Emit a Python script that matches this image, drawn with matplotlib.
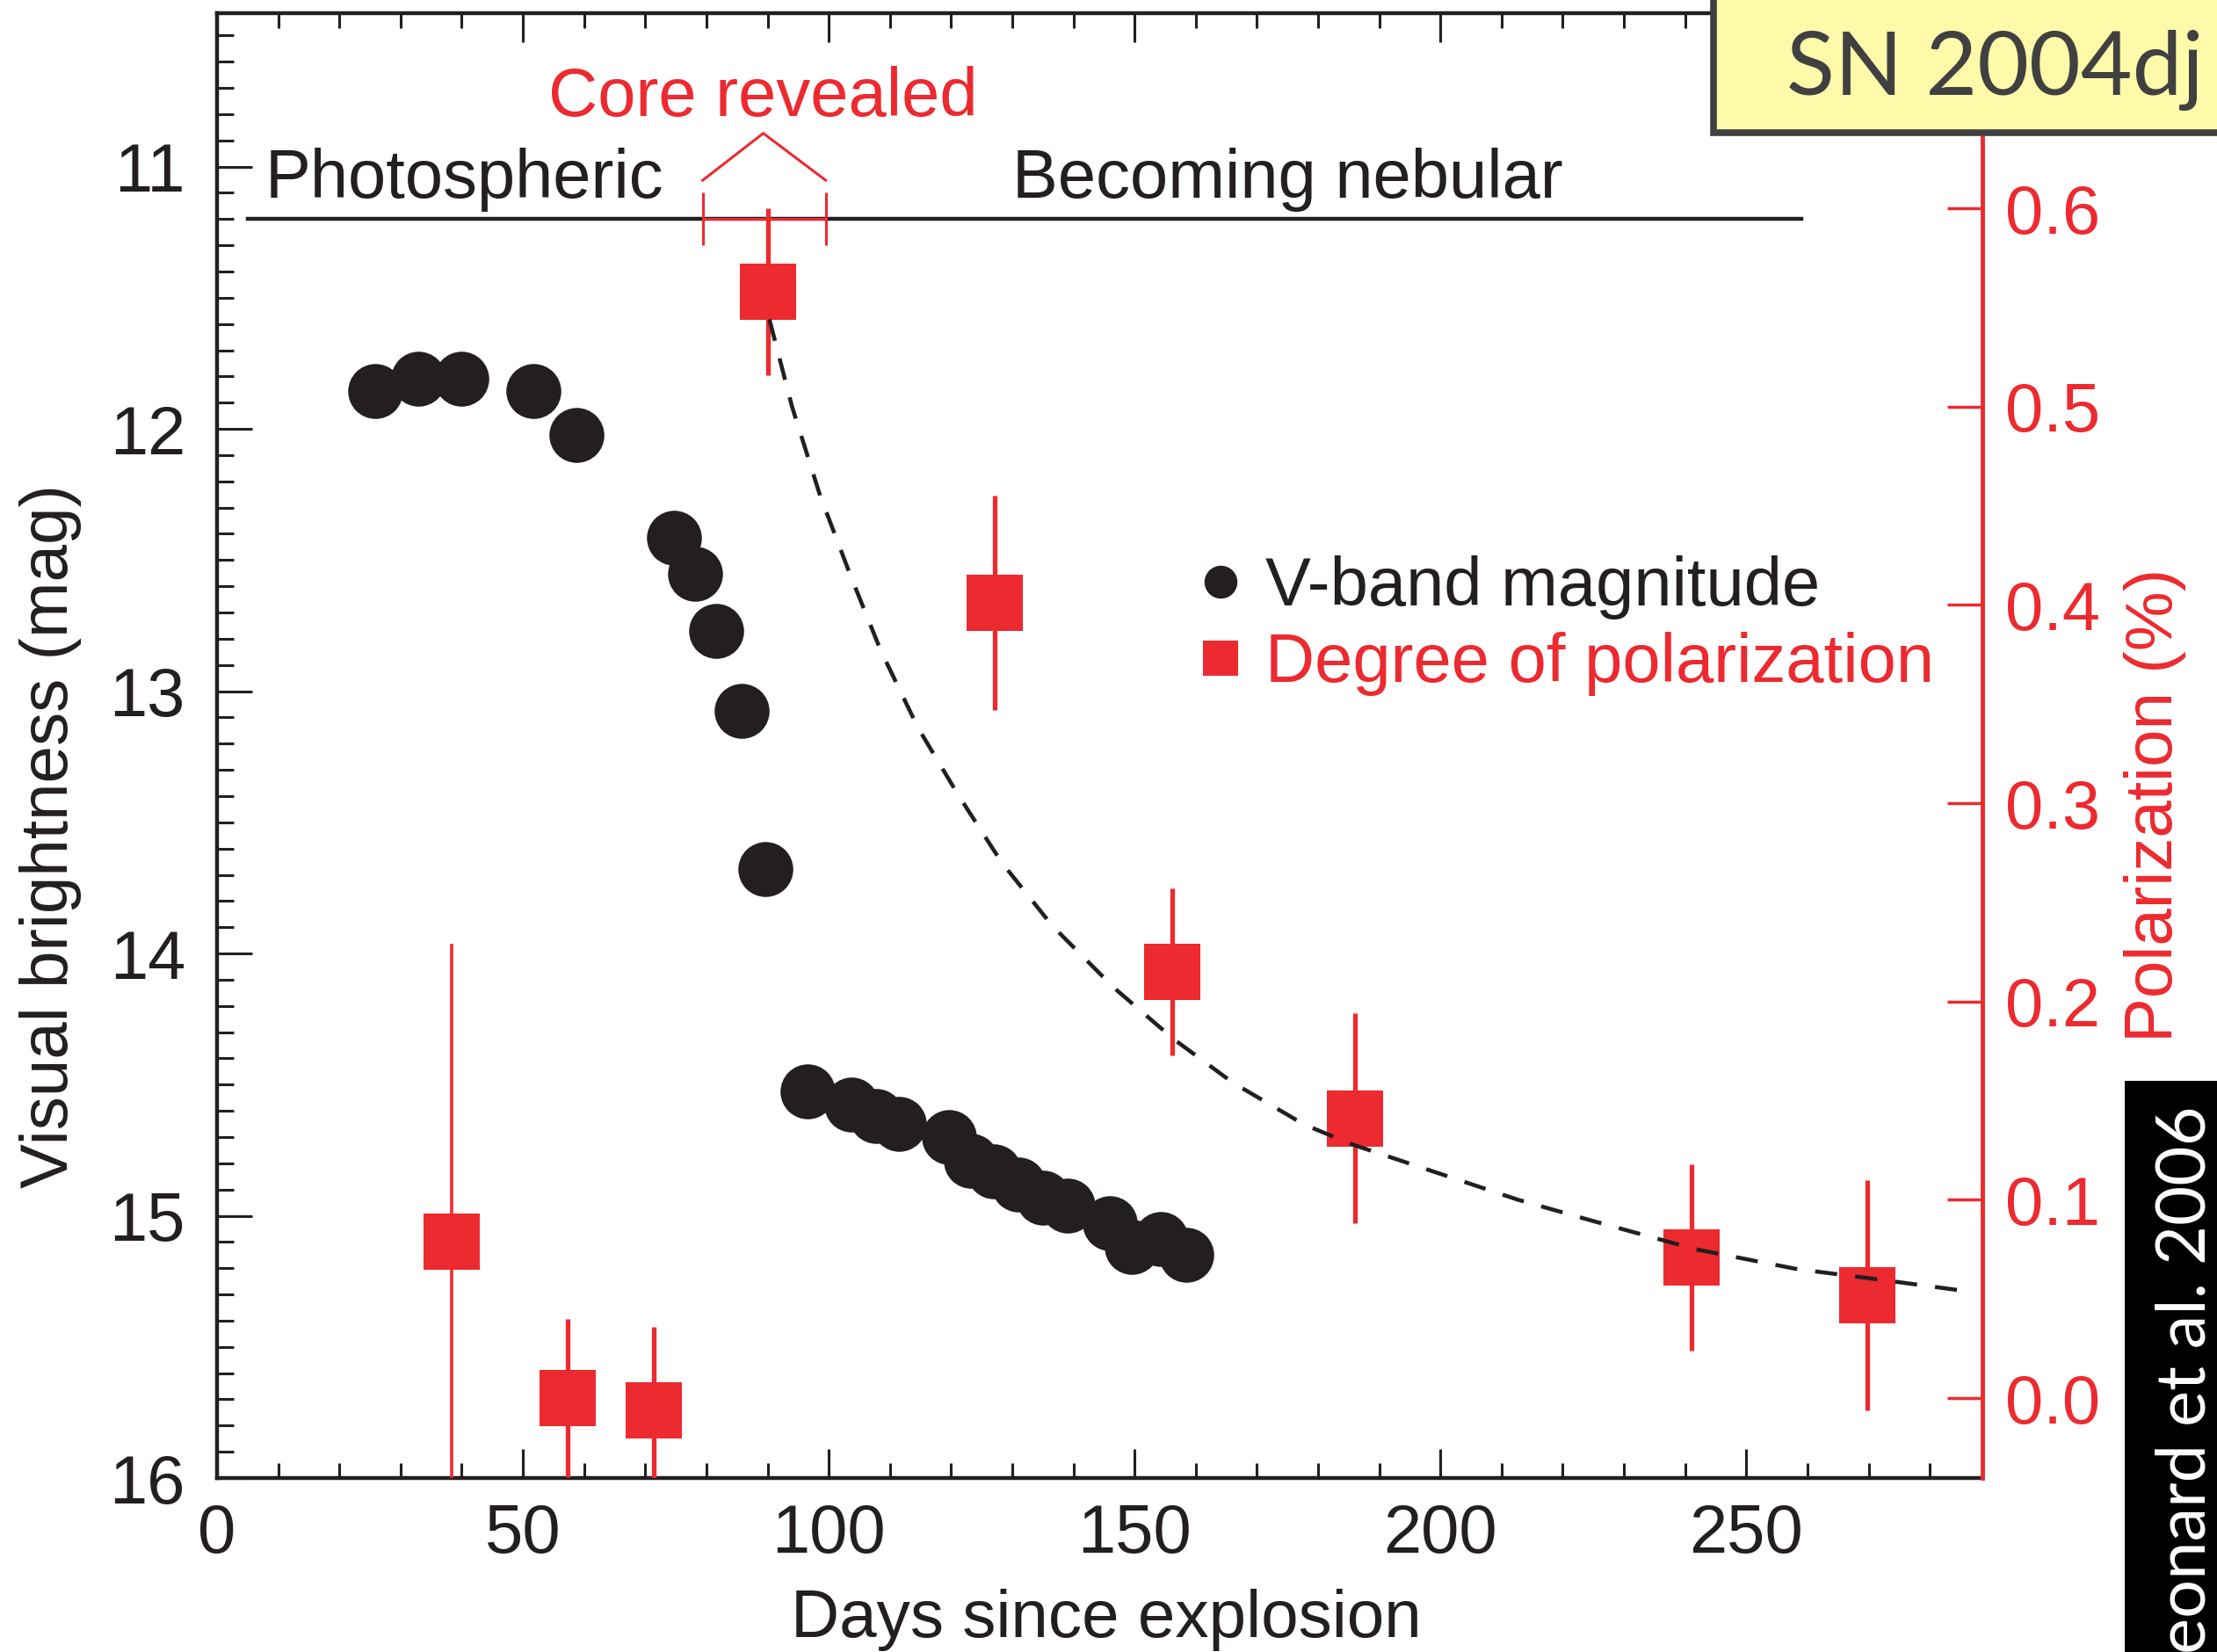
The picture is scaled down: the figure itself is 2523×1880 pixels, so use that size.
import matplotlib
matplotlib.use('Agg')
import matplotlib.pyplot as plt
from matplotlib.lines import Line2D
from matplotlib.patches import Rectangle
from matplotlib.ticker import MultipleLocator, FormatStrFormatter

plt.rcParams['font.family'] = ['Liberation Sans', 'DejaVu Sans']

BLACK = '#231f20'
RED = '#ec2a2f'

# V-band light curve (days since explosion, magnitude)
days_v = [25.8, 32.9, 39.9, 51.7, 58.8, 74.7, 78.1, 81.6, 85.7, 89.7,
          96.5, 103.7, 107.7, 111.5, 119.7, 123.3, 127.0, 131.0, 135.0, 139.0,
          146.0, 149.5, 154.3, 158.5]
mag_v = [11.857, 11.809, 11.809, 11.857, 12.023, 12.416, 12.553, 12.769, 13.074, 13.677,
         14.525, 14.575, 14.62, 14.65, 14.70, 14.79, 14.83, 14.88, 14.93, 14.96,
         15.03, 15.12, 15.09, 15.15]

# degree of polarization (%) with 1-sigma errors
days_p = [38.4, 57.3, 71.4, 90.0, 127.1, 156.2, 186.1, 241.0, 269.8]
pol = [0.079, 0.000, -0.006, 0.558, 0.401, 0.215, 0.141, 0.071, 0.052]
pol_err = [0.150, 0.040, 0.042, 0.042, 0.054, 0.042, 0.053, 0.047, 0.058]

# decline curve through the nebular-phase points
days_fit = [90.3, 94.0, 98.6, 103.6, 108.5, 114.6, 121.2, 128.3, 136.6, 146.6,
            156.4, 166.1, 177.7, 185.5, 199.1, 212.7, 225.3, 241.8, 258.4, 270.0, 284.6]
pol_fit = [0.544, 0.500, 0.455, 0.4145, 0.377, 0.338, 0.304, 0.270, 0.238, 0.207,
           0.181, 0.159, 0.138, 0.128, 0.114, 0.100, 0.089, 0.075, 0.065, 0.0605, 0.0545]

# phase markers
phase_days = (5.0, 259.0)
core_days = (79.4, 99.5)
phase_mag = 11.2

W, H = 2523, 1880
fig = plt.figure(figsize=(W / 100, H / 100), dpi=100)
ax = fig.add_axes([247 / W, 1 - 1682 / H, 2009 / W, 1667 / H])
ax2 = ax.twinx()

# light curve
ax.plot(days_v, mag_v, 'o', ms=45, mew=0, color=BLACK, zorder=3)

# phase line and labels
ax.plot(phase_days, [phase_mag, phase_mag], color=BLACK, lw=3.2, zorder=2)
ax.plot(core_days, [phase_mag, phase_mag], color=RED, lw=2.2, zorder=4)
ax.vlines(core_days, phase_mag - 0.1, phase_mag + 0.1, color=RED, lw=2.2, zorder=4)
ax.plot([core_days[0], 89.3, core_days[1]], [11.052, 10.873, 11.052], color=RED, lw=2.2)
ax.text(7.9, 11.119, 'Photospheric', fontsize=56, color=BLACK, va='baseline')
ax.text(130.0, 11.119, 'Becoming nebular', fontsize=56, color=BLACK, va='baseline')
ax.text(89.2, 10.806, 'Core revealed', fontsize=56, color=RED, va='baseline', ha='center')

ax.set_xlim(0, 288.6)
ax.set_ylim(16.0, 10.415)
ax.xaxis.set_major_locator(MultipleLocator(50))
ax.xaxis.set_minor_locator(MultipleLocator(10))
ax.yaxis.set_major_locator(MultipleLocator(1))
ax.yaxis.set_minor_locator(MultipleLocator(0.1))
ax.tick_params(axis='x', which='both', direction='in', top=True, bottom=True,
               colors=BLACK, labelsize=56, pad=20)
ax.tick_params(axis='x', which='major', length=24, width=2.2)
ax.tick_params(axis='x', which='minor', length=12.5, width=2.2)
ax.tick_params(axis='y', which='both', direction='in', left=True, right=False,
               colors=BLACK, labelsize=56, pad=26)
ax.tick_params(axis='y', which='major', length=29, width=2.2)
ax.tick_params(axis='y', which='minor', length=14, width=2.2)
for side in ['left', 'top', 'bottom']:
    ax.spines[side].set_linewidth(3.2)
    ax.spines[side].set_color(BLACK)
ax.spines['right'].set_visible(False)

# polarization: the early point has a lighter error bar
ax2.errorbar(days_p[:1], pol[:1], yerr=pol_err[:1], fmt='s', ms=46, mew=0, color=RED,
             ecolor=RED, elinewidth=2.6, capsize=10, capthick=3.5, zorder=2)
ax2.errorbar(days_p[1:], pol[1:], yerr=pol_err[1:], fmt='s', ms=46, mew=0, color=RED,
             ecolor=RED, elinewidth=3.8, capsize=10, capthick=4, zorder=2)
ax2.plot(days_fit, pol_fit, ls=(0, (5.5, 4.5)), lw=3.3, color=BLACK, zorder=4)
ax2.set_ylim(-0.0403, 0.6984)
ax2.yaxis.set_major_locator(MultipleLocator(0.1))
ax2.yaxis.set_major_formatter(FormatStrFormatter('%.1f'))
ax2.tick_params(axis='y', which='major', direction='in', length=29, width=2.5,
                colors=RED, labelsize=56, pad=19)
for side in ['left', 'top', 'bottom']:
    ax2.spines[side].set_visible(False)
ax2.spines['right'].set_color(RED)
ax2.spines['right'].set_linewidth(3.5)

# legend
handles = [Line2D([], [], ls='none', marker='o', ms=27, mew=0, color=BLACK),
           Line2D([], [], ls='none', marker='s', ms=29, mew=0, color=RED)]
ax.legend(handles, ['V-band magnitude', 'Degree of polarization'],
          loc='center left', bbox_to_anchor=(1358 / W, 1 - 712 / H),
          bbox_transform=fig.transFigure, frameon=False, fontsize=56,
          handlelength=0.8, handletextpad=0.25, labelspacing=0.18,
          borderpad=0, borderaxespad=0, labelcolor=[BLACK, RED])

# axis labels
fig.text(58 / W, 1 - 952 / H, 'Visual brightness (mag)', rotation=90,
         ha='center', va='center', fontsize=55, color=BLACK)
fig.text(1259 / W, 1 - 1863 / H, 'Days since explosion', ha='center',
         va='baseline', fontsize=55, color=BLACK)
fig.text(2452 / W, 1 - 916 / H, 'Polarization (%)', rotation=90,
         ha='center', va='center', fontsize=55, color=RED)

# object tag and citation
fig.add_artist(Rectangle((1950 / W, 1 - 151 / H), 0.3, 0.2, transform=fig.transFigure,
                         facecolor='#fefaa9', edgecolor='#404040', lw=5.5, zorder=5))
fig.text(2033 / W, 1 - 108 / H, 'SN 2004dj', ha='left', va='baseline', fontsize=73,
         family='Lato', color='#404040', zorder=6)
fig.add_artist(Rectangle((2418 / W, 0), 0.1, (H - 1230) / H, transform=fig.transFigure,
                         facecolor='black', edgecolor='none', zorder=5))
fig.text(2510 / W, 1 - 1258 / H, 'Leonard et al. 2006', rotation=90, rotation_mode='anchor',
         ha='right', va='baseline', fontsize=56, family='Lato', color='white', zorder=6)

fig.savefig('out.png', dpi=100)
